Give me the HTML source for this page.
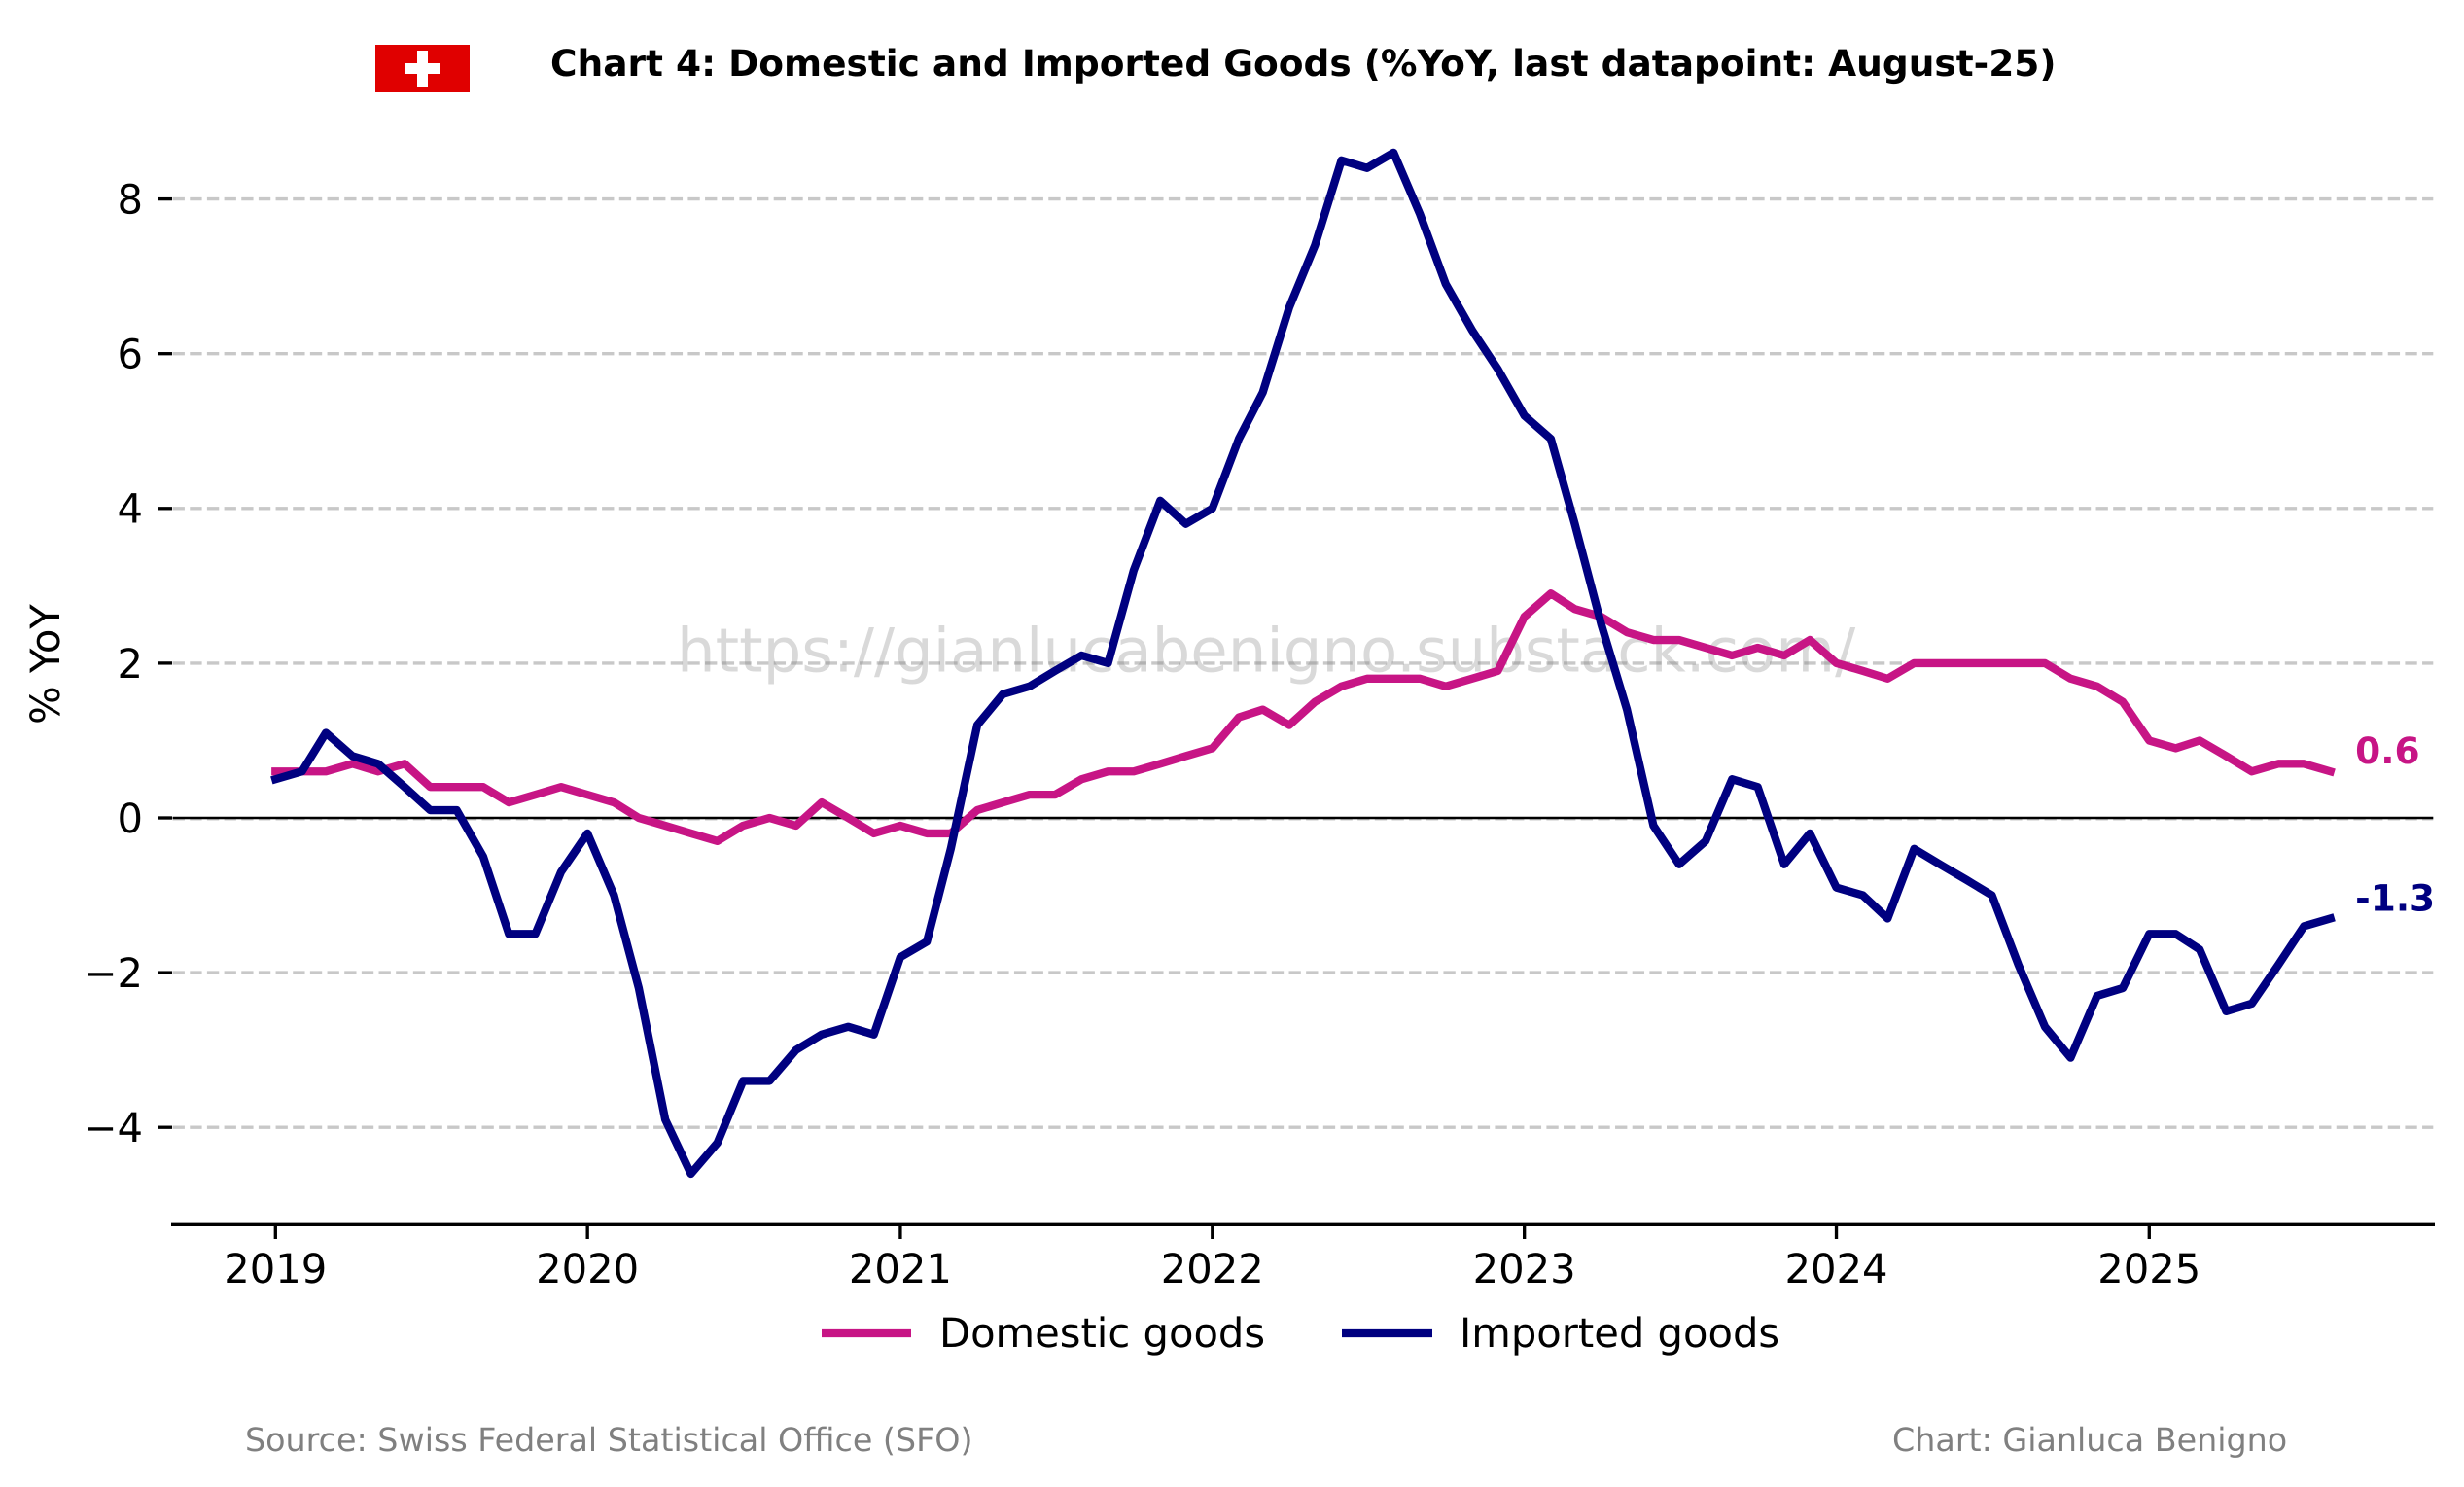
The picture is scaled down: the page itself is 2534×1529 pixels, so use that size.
<!DOCTYPE html>
<html lang="en">
<head>
<meta charset="utf-8">
<title>Chart 4: Domestic and Imported Goods</title>
<style>
html,body{margin:0;padding:0;background:#fff;width:2534px;height:1529px;overflow:hidden}
svg{display:block}
text{font-family:"DejaVu Sans","Liberation Sans",sans-serif;text-rendering:geometricPrecision}
</style>
</head>
<body>
<svg id="chart" xmlns="http://www.w3.org/2000/svg" width="2534" height="1529" viewBox="0 0 2534 1529">
  <rect x="0" y="0" width="2534" height="1529" fill="#ffffff"/>
  <g>
    <rect x="386" y="46" width="97" height="49" fill="#e00000"/>
    <rect x="429" y="52" width="11" height="37" fill="#ffffff"/>
    <rect x="417" y="65" width="35" height="11" fill="#ffffff"/>
  </g>
  <text x="566" y="78" font-size="37.5" font-weight="700" fill="#000000">Chart 4: Domestic and Imported Goods (%YoY, last datapoint: August-25)</text>
  <g id="grid"></g>
  <g id="yaxis"></g>
  <g id="xaxis"></g>
  <text transform="translate(61,683) rotate(-90)" text-anchor="middle" font-size="41.67" fill="#000000">% YoY</text>
  <text x="696" y="690.7" font-size="62.5" fill="#808080" fill-opacity="0.3">https://gianlucabenigno.substack.com/</text>
  <g id="series"></g>
  <g id="endlabels"></g>
  <g>
    <g>
      <line x1="845" x2="937" y1="1371" y2="1371" stroke="#c71585" stroke-width="8.33"/>
      <text x="966" y="1385" font-size="41.67" fill="#000000">Domestic goods</text>
    </g>
    <g>
      <line x1="1380" x2="1473" y1="1371" y2="1371" stroke="#000080" stroke-width="8.33"/>
      <text x="1501" y="1385" font-size="41.67" fill="#000000">Imported goods</text>
    </g>
  </g>
  <text x="252" y="1492" font-size="33.33" fill="#808080">Source: Swiss Federal Statistical Office (SFO)</text>
  <text x="1946" y="1492" font-size="33.33" fill="#808080">Chart: Gianluca Benigno</text>
</svg>
<script>
const months = [
  "2019-01","2019-02","2019-03","2019-04","2019-05","2019-06","2019-07","2019-08","2019-09","2019-10","2019-11","2019-12",
  "2020-01","2020-02","2020-03","2020-04","2020-05","2020-06","2020-07","2020-08","2020-09","2020-10","2020-11","2020-12",
  "2021-01","2021-02","2021-03","2021-04","2021-05","2021-06","2021-07","2021-08","2021-09","2021-10","2021-11","2021-12",
  "2022-01","2022-02","2022-03","2022-04","2022-05","2022-06","2022-07","2022-08","2022-09","2022-10","2022-11","2022-12",
  "2023-01","2023-02","2023-03","2023-04","2023-05","2023-06","2023-07","2023-08","2023-09","2023-10","2023-11","2023-12",
  "2024-01","2024-02","2024-03","2024-04","2024-05","2024-06","2024-07","2024-08","2024-09","2024-10","2024-11","2024-12",
  "2025-01","2025-02","2025-03","2025-04","2025-05","2025-06","2025-07","2025-08"
];
const domestic = [
  0.6,0.6,0.6,0.7,0.6,0.7,0.4,0.4,0.4,0.2,0.3,0.4,
  0.3,0.2,0.0,-0.1,-0.2,-0.3,-0.1,0.0,-0.1,0.2,0.0,-0.2,
  -0.1,-0.2,-0.2,0.1,0.2,0.3,0.3,0.5,0.6,0.6,0.7,0.8,
  0.9,1.3,1.4,1.2,1.5,1.7,1.8,1.8,1.8,1.7,1.8,1.9,
  2.6,2.9,2.7,2.6,2.4,2.3,2.3,2.2,2.1,2.2,2.1,2.3,
  2.0,1.9,1.8,2.0,2.0,2.0,2.0,2.0,2.0,1.8,1.7,1.5,
  1.0,0.9,1.0,0.8,0.6,0.7,0.7,0.6
];
const imported = [
  0.5,0.6,1.1,0.8,0.7,0.4,0.1,0.1,-0.5,-1.5,-1.5,-0.7,
  -0.2,-1.0,-2.2,-3.9,-4.6,-4.2,-3.4,-3.4,-3.0,-2.8,-2.7,-2.8,
  -1.8,-1.6,-0.4,1.2,1.6,1.7,1.9,2.1,2.0,3.2,4.1,3.8,
  4.0,4.9,5.5,6.6,7.4,8.5,8.4,8.6,7.8,6.9,6.3,5.8,
  5.2,4.9,3.8,2.5,1.4,-0.1,-0.6,-0.3,0.5,0.4,-0.6,-0.2,
  -0.9,-1.0,-1.3,-0.4,-0.6,-0.8,-1.0,-1.9,-2.7,-3.1,-2.3,-2.2,
  -1.5,-1.5,-1.7,-2.5,-2.4,-1.9,-1.4,-1.3
];
const yTickValues = [-4,-2,0,2,4,6,8];
const yTickLabels = ["\u22124","\u22122","0","2","4","6","8"];
const xTickYears = [2019,2020,2021,2022,2023,2024,2025];

const SVGNS = "http://www.w3.org/2000/svg";
const plotLeft = 176, plotRight = 2504, gridLeft = 177.6, gridRight = 2502.3;
const xOrigin = 283.3, pxPerDay = 0.8791, yZero = 841, pxPerUnit = 79.55;
const DAY = 86400000;

function xDate(year, month) {
  return xOrigin + (Date.UTC(year, month - 1, 1) - Date.UTC(2019, 0, 1)) / DAY * pxPerDay;
}
function xMonth(label) {
  const parts = label.split("-");
  return xDate(+parts[0], +parts[1]);
}
function yValue(v) {
  return yZero - v * pxPerUnit;
}
function make(tag, parent, attrs, text) {
  const el = document.createElementNS(SVGNS, tag);
  for (const k in attrs) el.setAttribute(k, attrs[k]);
  if (text !== undefined) el.textContent = text;
  parent.appendChild(el);
  return el;
}

const grid = document.getElementById("grid");
const yaxis = document.getElementById("yaxis");
const xaxis = document.getElementById("xaxis");
const series = document.getElementById("series");
const endlabels = document.getElementById("endlabels");

yTickValues.forEach(function (v, i) {
  const y = yValue(v);
  const gridY = y + (v === 0 ? 0.8 : 0);
  const g = make("line", grid, {x1: gridLeft, x2: gridRight, y1: gridY, y2: gridY, stroke: "#c8c8c8", "stroke-width": 3.33, "stroke-dasharray": "12.33 5.33"});
  
  
  const tick = make("line", yaxis, {x1: 162.5, x2: 177, y1: y, y2: y, stroke: "#000000", "stroke-width": 3.33});
  
  
  const lab = make("text", yaxis, {x: 147, y: y + 14.9, "text-anchor": "end", "font-size": 41.67, fill: "#000000"}, yTickLabels[i]);
  
  
});

const spine = make("line", xaxis, {x1: plotLeft, x2: plotRight, y1: 1259.3, y2: 1259.3, stroke: "#000000", "stroke-width": 3.33});



xTickYears.forEach(function (yr) {
  const x = xDate(yr, 1);
  const tick = make("line", xaxis, {x1: x, x2: x, y1: 1259.3, y2: 1274, stroke: "#000000", "stroke-width": 3.33});
  
  
  const lab = make("text", xaxis, {x: x, y: 1319, "text-anchor": "middle", "font-size": 41.67, fill: "#000000"}, String(yr));
  
  
});

const zeroLine = make("line", grid, {x1: gridLeft, x2: gridRight, y1: yValue(0), y2: yValue(0), stroke: "#000000", "stroke-width": 2.4});



function pathFor(values) {
  return values.map(function (v, i) {
    return (i ? "L" : "M") + xMonth(months[i]).toFixed(2) + " " + yValue(v).toFixed(2);
  }).join(" ");
}

const domesticLine = make("path", series, {d: pathFor(domestic), fill: "none", stroke: "#c71585", "stroke-width": 8.33, "stroke-linecap": "square", "stroke-linejoin": "round"});



const importedLine = make("path", series, {d: pathFor(imported), fill: "none", stroke: "#000080", "stroke-width": 8.33, "stroke-linecap": "square", "stroke-linejoin": "round"});



const lastIndex = months.length - 1;
const labelX = xMonth(months[lastIndex]) + 25.5;

const domesticEnd = make("text", endlabels, {x: labelX, y: yValue(domestic[lastIndex]) - 8.3, "font-size": 37.5, "font-weight": 700, fill: "#c71585"}, domestic[lastIndex].toFixed(1));



const importedEnd = make("text", endlabels, {x: labelX, y: yValue(imported[lastIndex]) - 7.7, "font-size": 37.5, "font-weight": 700, fill: "#000080"}, imported[lastIndex].toFixed(1));


</script>
</body>
</html>
